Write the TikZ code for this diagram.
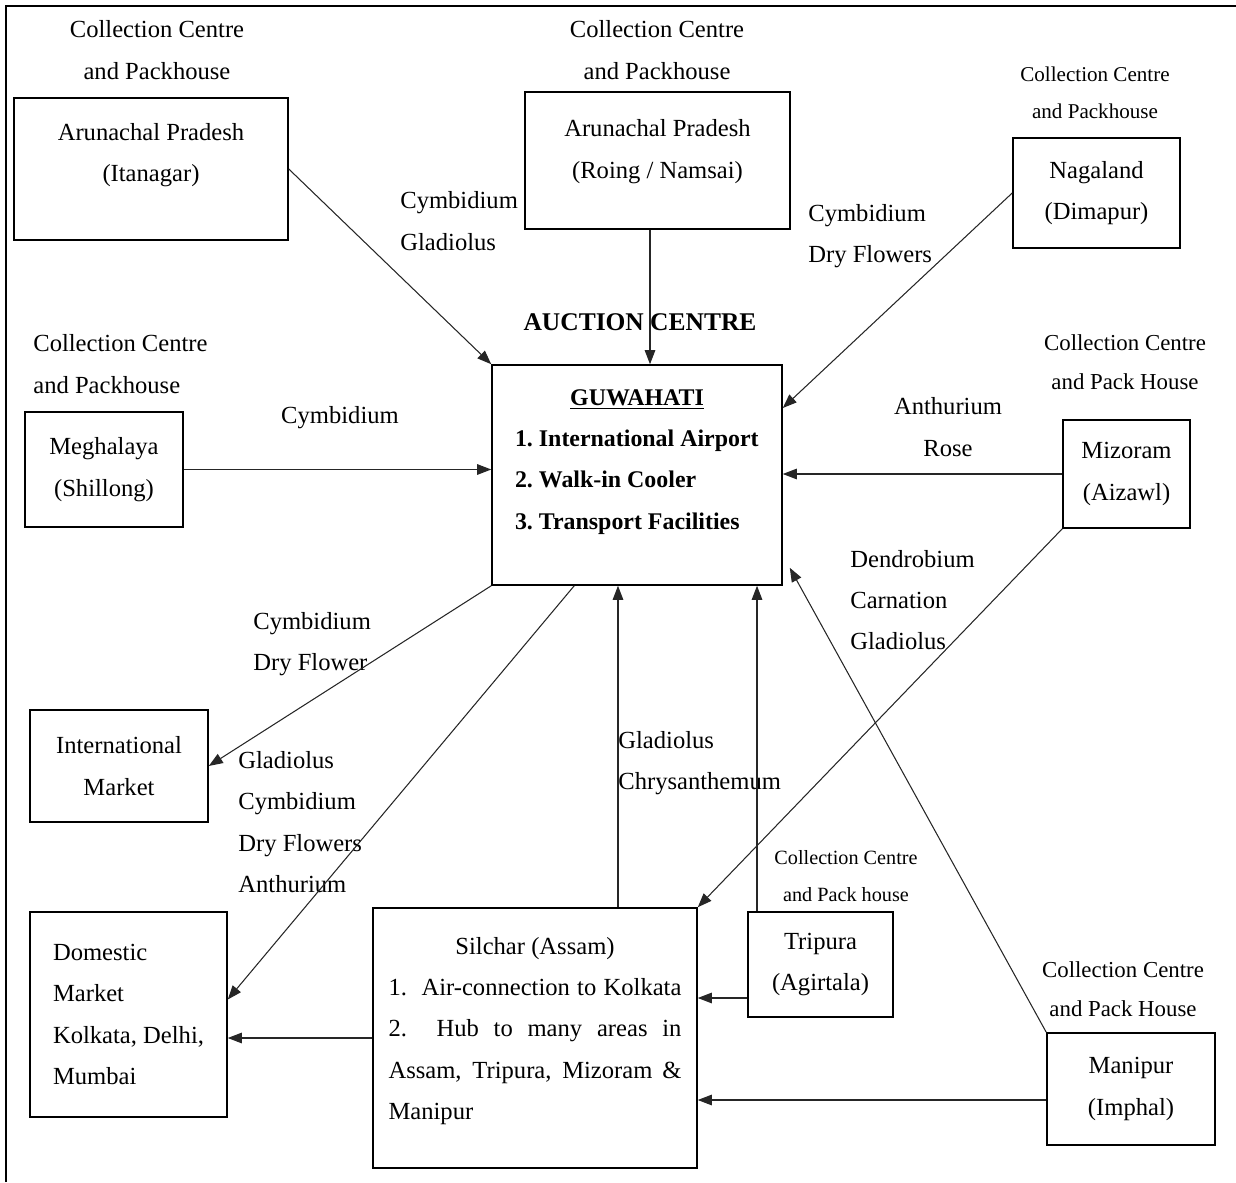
\documentclass[tikz,border=0pt]{standalone}
\usepackage{fontspec}
\setmainfont{Liberation Serif}
\usetikzlibrary{arrows.meta}
\newcommand{\lowpad}[1]{\rule[-#1]{0pt}{#1}}

\begin{document}
\begin{tikzpicture}[x=0.02cm, y=-0.02cm,
    every node/.style={font=\fontsize{14}{23.5}\selectfont},
    box/.style={draw, line width=0.9pt, inner sep=0pt, align=center},
    lbl/.style={align=center, inner sep=0pt},
    arr/.style={-{Triangle[length=8pt,width=6pt]}, line width=0.6pt, black!85}]
        \useasboundingbox (0,0) rectangle (1236,1182);
        \draw[line width=1pt] (6,1182) -- (6,6) -- (1236,6);

        % Auction centre
        \node[box, minimum width=5.80cm, minimum height=4.40cm, align=left, font=\fontsize{13.6}{23.5}\selectfont\bfseries] (guw) at (637,475) {\makebox[4.88cm]{\underline{GUWAHATI}}\\1.\ International Airport\\2.\ Walk-in Cooler\\3.\ Transport Facilities\lowpad{18pt}};
        \node[lbl, font=\fontsize{14.5}{20}\selectfont\bfseries] (auction) at (640,322) {AUCTION CENTRE};

        % Collection centres and packhouses
        \node[box, minimum width=5.48cm, minimum height=2.84cm] (itan) at (151,169) {Arunachal Pradesh\\(Itanagar)\lowpad{19pt}};
        \node[lbl] (itanCap) at (157,50) {Collection Centre\\and Packhouse};
        \node[box, minimum width=5.30cm, minimum height=2.74cm] (roing) at (657.5,160.5) {Arunachal Pradesh\\(Roing / Namsai)\lowpad{13pt}};
        \node[lbl] (roingCap) at (657,50) {Collection Centre\\and Packhouse};
        \node[box, minimum width=3.34cm, minimum height=2.20cm] (naga) at (1096.5,193) {Nagaland\\(Dimapur)};
        \node[lbl, font=\fontsize{12}{21}\selectfont] (nagaCap) at (1095,93) {Collection Centre\\and Packhouse};
        \node[box, minimum width=3.16cm, minimum height=2.30cm] (megh) at (104,469.5) {Meghalaya\\(Shillong)};
        \node[lbl, align=left, anchor=west] (meghCap) at (33,364) {Collection Centre\\and Packhouse};
        \node[box, minimum width=2.54cm, minimum height=2.16cm] (mizo) at (1126.5,474) {Mizoram\\(Aizawl)};
        \node[lbl, font=\fontsize{13}{22}\selectfont] (mizoCap) at (1125,362) {Collection Centre\\and Pack House};
        \node[box, minimum width=2.90cm, minimum height=2.10cm] (trip) at (820.5,964.5) {Tripura\\(Agirtala)};
        \node[lbl, font=\fontsize{11.5}{21}\selectfont] (tripCap) at (846,876) {Collection Centre\\and Pack house};
        \node[box, minimum width=3.36cm, minimum height=2.24cm] (mani) at (1131,1089) {Manipur\\(Imphal)};
        \node[lbl, font=\fontsize{13}{22}\selectfont] (maniCap) at (1123,989) {Collection Centre\\and Pack House};

        % Markets and Silchar hub
        \node[box, minimum width=3.56cm, minimum height=2.24cm] (intl) at (119,766) {International\\Market};
        \node[box, minimum width=3.94cm, minimum height=4.10cm, align=left] (dom) at (128.5,1014.5) {Domestic\\Market\\Kolkata, Delhi,\\Mumbai};
        \node[box, minimum width=6.48cm, minimum height=5.20cm, align=left] (silc) at (535,1038) {\makebox[5.86cm]{Silchar (Assam)}\\\makebox[5.86cm][s]{1.\ \ Air-connection to Kolkata}\\\makebox[5.86cm][s]{2.\ \ Hub to many areas in}\\\makebox[5.86cm][s]{Assam, Tripura, Mizoram \&}\\Manipur\lowpad{11pt}};

        % Flower labels
        \node[lbl, align=left, anchor=west] (flItan) at (400,221) {Cymbidium\\Gladiolus};
        \node[lbl, align=left, anchor=west] (flNaga) at (808,236) {Cymbidium\\Dry Flowers};
        \node[lbl] (flMegh) at (340,418) {Cymbidium};
        \node[lbl] (flMizo) at (948,427) {Anthurium\\Rose};
        \node[lbl, align=left, anchor=west] (flMani) at (850,600) {Dendrobium\\Carnation\\Gladiolus};
        \node[lbl, align=left, anchor=west] (flIntl) at (253,644) {Cymbidium\\Dry Flower};
        \node[lbl, align=left, anchor=west] (flDom) at (238,822) {Gladiolus\\Cymbidium\\Dry Flowers\\Anthurium};
        \node[lbl, align=left, anchor=west] (flSilc) at (618,763) {Gladiolus\\Chrysanthemum};

        % Flows into Guwahati
        \draw[arr] (itan.east) -- (guw.north west);
        \draw[arr] ([xshift=-0.15cm]roing.south) coordinate (r1) -- (r1 |- guw.north);
        \draw[arr] (naga.west) -- ([yshift=1.34cm]guw.east);
        \draw[arr] (megh.east) -- (megh.east -| guw.west);
        \draw[arr] (mizo.west) -- (mizo.west -| guw.east);
        \draw[arr] (mani.north west) -- ([shift={(0.14cm,0.36cm)}]guw.south east);
        \draw[arr] ([xshift=1.66cm]silc.north) coordinate (s1) -- (s1 |- guw.south);
        \draw[arr] ([xshift=-1.27cm]trip.north) coordinate (t1) -- (t1 |- guw.south);

        % Flows out to markets
        \draw[arr] (guw.south west) -- (intl.east);
        \draw[arr] ([xshift=1.66cm]guw.south west) -- ([yshift=0.3cm]dom.east);

        % Flows through Silchar
        \draw[arr] (mizo.south west) -- (silc.north east);
        \draw[arr] ([yshift=-0.67cm]trip.west) coordinate (t2) -- (t2 -| silc.east);
        \draw[arr] ([yshift=-0.22cm]mani.west) coordinate (m1) -- (m1 -| silc.east);
        \draw[arr] (silc.west) -- (silc.west -| dom.east);
\end{tikzpicture}
\end{document}
